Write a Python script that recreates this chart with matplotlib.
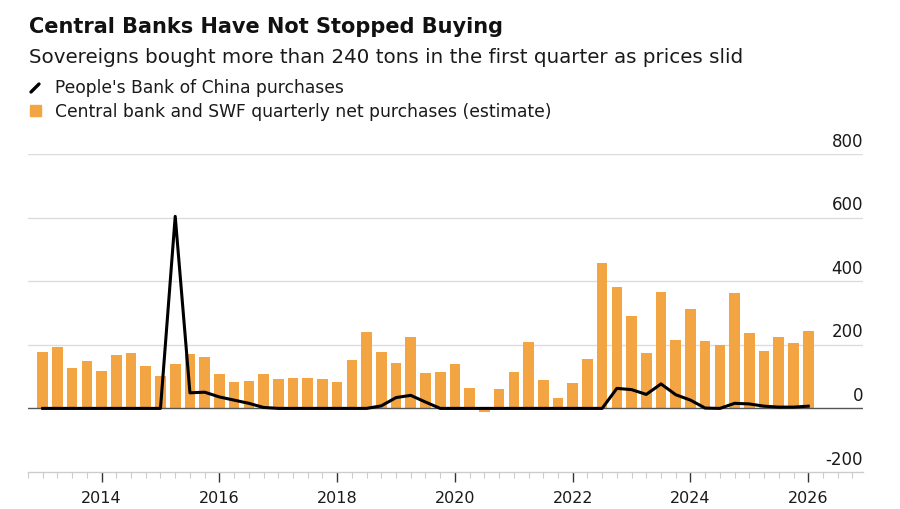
import numpy as np
import matplotlib
matplotlib.use("Agg")
import matplotlib.pyplot as plt
from matplotlib.ticker import FixedLocator, MultipleLocator

plt.rcParams['font.family'] = ['DejaVu Sans']

# Quarterly data, Q1 2013 .. Q1 2026 (tons)
start_year = 2013
swf_purchases = [
    178, 192, 127, 149, 118, 168, 175, 134,   # 2013-2014
    102, 140, 170, 161, 109, 83, 87, 109,     # 2015-2016
    91, 96, 96, 92, 83, 151, 239, 176,        # 2017-2018
    144, 226, 111, 115, 139, 63, -12, 60,     # 2019-2020
    113, 208, 89, 34, 80, 156, 456, 381,      # 2021-2022
    289, 175, 365, 215, 312, 211, 200, 364,   # 2023-2024
    236, 179, 225, 206, 243,                  # 2025-2026Q1
]
pboc_purchases = [
    0, 0, 0, 0, 0, 0, 0, 0,
    0, 604, 49, 51, 36, 26, 16, 3,
    0, 0, 0, 0, 0, 0, 0, 8,
    34, 41, 20, 0, 0, 0, 0, 0,
    0, 0, 0, 0, 0, 0, 0, 63,
    59, 44, 77, 43, 26, 1, 0, 16,
    14, 7, 4, 4, 7,
]
y_ticks = [-200, 0, 200, 400, 600, 800]
x_ticks = [2014, 2016, 2018, 2020, 2022, 2024, 2026]

quarters = start_year + np.arange(len(swf_purchases)) * 0.25

fig = plt.figure(figsize=(9, 5.1), dpi=100)
W, H = 900, 510
ax = fig.add_axes([28 / W, 1 - 473 / H, (863 - 28) / W, (473 - 155) / H])

orange = '#F3A443'
ax.bar(quarters, swf_purchases, width=0.25 * 0.72, color=orange, zorder=2)
ax.plot(quarters, pboc_purchases, color='black', lw=2.2, zorder=3,
        solid_joinstyle='round')

ax.set_xlim(2012.75, 2026.93)
ax.set_ylim(-200, 800)

# gridlines + y labels on the right, above lines
for v in y_ticks:
    if v == 0:
        ax.axhline(v, color='#555555', lw=1.0, zorder=2.5)
    elif v != -200:
        ax.axhline(v, color='#dcdcdc', lw=1.0, zorder=1)
    ax.text(1.0, v + 14, f"{v}", transform=ax.get_yaxis_transform(),
            ha='right', va='bottom', fontsize=12, color='#1a1a1a')

ax.set_yticks([])
for s in ['top', 'right', 'left']:
    ax.spines[s].set_visible(False)
ax.spines['bottom'].set_color('#cccccc')
ax.spines['bottom'].set_linewidth(1.0)

ax.xaxis.set_major_locator(FixedLocator(x_ticks))
ax.xaxis.set_minor_locator(MultipleLocator(0.25))
ax.set_xticklabels([str(y) for y in x_ticks])
ax.tick_params(axis='x', which='major', length=7, width=1.0, color='#333333',
               labelsize=11.5, labelcolor='#1a1a1a', pad=6)
ax.tick_params(axis='x', which='minor', length=4, width=0.8, color='#cccccc')

# Title, subtitle, legend
fig.text(29 / W, 1 - 33 / H, "Central Banks Have Not Stopped Buying",
         fontsize=15.0, fontweight='bold', ha='left', va='baseline', color='#111111')
fig.text(29 / W, 1 - 63 / H,
         "Sovereigns bought more than 240 tons in the first quarter as prices slid",
         fontsize=14.3, ha='left', va='baseline', color='#1a1a1a')

fig.add_artist(plt.Line2D([31 / W, 39 / W], [1 - 93 / H, 1 - 85 / H],
                          color='black', lw=2.4, solid_capstyle='round'))
fig.text(55 / W, 1 - 93 / H, "People's Bank of China purchases",
         fontsize=12.3, ha='left', va='baseline', color='#1a1a1a')
fig.add_artist(plt.Rectangle((30 / W, 1 - 117 / H), 11 / W, 11 / H,
                             color=orange, transform=fig.transFigure))
fig.text(55 / W, 1 - 117 / H,
         "Central bank and SWF quarterly net purchases (estimate)",
         fontsize=12.3, ha='left', va='baseline', color='#1a1a1a')

fig.savefig("out.png", dpi=100, facecolor='white')
